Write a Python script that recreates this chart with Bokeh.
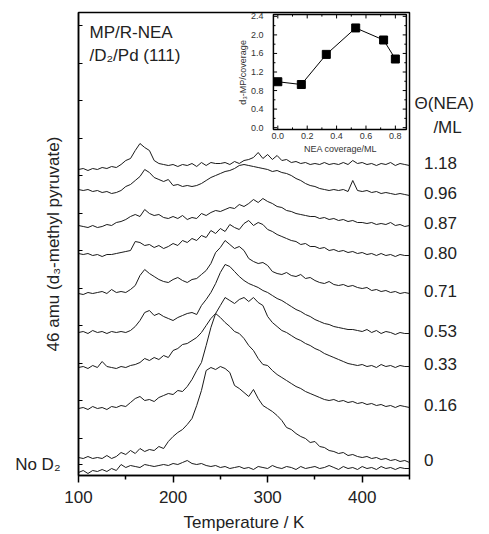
import numpy as np
from bokeh.plotting import figure
from bokeh.models import Range1d, FixedTicker, LinearAxis
from bokeh.core.properties import value
from bokeh.embed import file_html
from bokeh.resources import INLINE

FONT = "Liberation Sans"
INK = "#222222"

# ---------------- data ----------------
temperature = list(range(100, 451, 5))  # K

coverage_labels = ["1.18", "0.96", "0.87", "0.80", "0.71", "0.53", "0.33", "0.16", "0"]

sig_118 = [306, 307, 305, 307, 306, 308, 307, 309, 308, 311,
           315, 317, 325, 332, 328, 325, 315, 312, 311, 310,
           311, 309, 311, 310, 312, 309, 313, 310, 313, 312,
           312, 313, 311, 314, 312, 315, 316, 318, 323, 317,
           321, 316, 320, 315, 316, 313, 314, 312, 313, 311,
           312, 311, 313, 311, 312, 311, 313, 311, 315, 312,
           313, 311, 312, 310, 312, 311, 313, 310, 312, 311,
           310]
sig_096 = [286, 285, 286, 284, 285, 283, 284, 282, 283, 285,
           289, 291, 295, 299, 306, 303, 298, 296, 294, 296,
           290, 291, 289, 290, 289, 290, 292, 295, 298, 300,
           302, 304, 305, 307, 310, 311, 310, 309, 308, 307,
           306, 304, 305, 303, 302, 300, 297, 295, 292, 290,
           289, 287, 286, 285, 286, 285, 286, 284, 295, 285,
           284, 285, 283, 284, 282, 283, 282, 281, 282, 281,
           280]
sig_087 = [250, 249, 248, 250, 248, 249, 251, 250, 253, 254,
           256, 259, 261, 259, 266, 262, 260, 261, 258, 257,
           259, 257, 260, 256, 258, 257, 262, 260, 263, 265,
           264, 266, 268, 267, 271, 269, 272, 276, 273, 277,
           274, 272, 269, 268, 265, 264, 262, 261, 260, 259,
           259, 257, 258, 256, 257, 255, 256, 254, 255, 253,
           253, 252, 253, 251, 252, 251, 253, 250, 251, 249,
           250]
sig_080 = [222, 221, 222, 220, 221, 219, 221, 221, 222, 223,
           224, 225, 234, 233, 230, 231, 228, 230, 227, 229,
           232, 230, 235, 233, 237, 235, 240, 238, 245, 242,
           247, 244, 251, 248, 246, 252, 255, 250, 253, 251,
           246, 244, 241, 239, 237, 235, 234, 231, 232, 229,
           229, 227, 228, 225, 226, 224, 225, 223, 224, 222,
           223, 221, 222, 220, 222, 220, 221, 219, 221, 220,
           220]
sig_071 = [182, 181, 183, 182, 183, 184, 182, 186, 183, 184,
           183, 186, 190, 200, 206, 202, 199, 196, 194, 193,
           196, 198, 195, 193, 196, 197, 201, 205, 212, 223,
           228, 235, 231, 227, 229, 225, 217, 214, 212, 213,
           210, 204, 202, 201, 203, 200, 199, 201, 197, 198,
           195, 193, 192, 194, 191, 190, 191, 189, 190, 188,
           187, 188, 185, 186, 184, 185, 183, 184, 182, 183,
           182]
sig_053 = [143, 144, 142, 145, 143, 144, 142, 144, 143, 144,
           143, 145, 149, 155, 163, 165, 160, 162, 159, 157,
           155, 158, 160, 162, 163, 161, 170, 176, 183, 192,
           203, 211, 209, 204, 199, 195, 192, 190, 188, 185,
           183, 180, 177, 175, 172, 169, 166, 164, 161, 159,
           156, 154, 152, 151, 149, 148, 147, 146, 146, 145,
           144, 146, 143, 145, 142, 144, 143, 141, 143, 142,
           142]
sig_033 = [108, 109, 107, 110, 108, 114, 109, 108, 107, 109,
           108, 110, 111, 113, 117, 115, 118, 116, 120, 118,
           125, 127, 131, 132, 135, 138, 143, 150, 157, 162,
           170, 178, 175, 172, 176, 178, 174, 178, 173, 170,
           159, 153, 149, 145, 143, 140, 137, 135, 132, 130,
           127, 125, 122, 120, 118, 116, 114, 112, 111, 110,
           111, 109, 110, 108, 111, 109, 110, 108, 110, 109,
           109]
sig_016 = [67, 68, 66, 69, 67, 68, 66, 69, 68, 70,
           69, 73, 77, 79, 75, 76, 74, 78, 80, 82,
           81, 85, 84, 89, 96, 105, 113, 130, 148, 162,
           158, 153, 149, 144, 142, 137, 130, 125, 117, 111,
           110, 105, 101, 98, 95, 92, 89, 87, 84, 82,
           80, 78, 76, 75, 76, 74, 75, 73, 74, 72,
           73, 71, 72, 70, 71, 69, 70, 68, 70, 69,
           68]
sig_000 = [18, 17, 19, 17, 18, 17, 20, 17, 19, 23,
           21, 25, 22, 27, 24, 26, 25, 29, 27, 34,
           39, 43, 46, 51, 57, 70, 85, 105, 108, 106,
           109, 107, 103, 90, 87, 83, 79, 86, 77, 70,
           67, 64, 60, 55, 48, 46, 42, 39, 37, 33,
           34, 29, 28, 25, 24, 22, 23, 20, 21, 19,
           18, 19, 17, 18, 16, 17, 15, 16, 14, 15,
           13]
sig_no_d2 = [3, 5, 2, 5, 4, 6, 4, 7, 5, 11,
             8, 10, 9, 8, 11, 10, 9, 10, 11, 10,
             12, 11, 13, 15, 12, 11, 12, 10, 9, 10,
             8, 9, 7, 8, 9, 7, 8, 6, 9, 8,
             7, 10, 8, 7, 9, 8, 6, 9, 7, 8,
             9, 7, 8, 10, 8, 6, 9, 7, 8, 6,
             9, 7, 8, 6, 9, 7, 8, 6, 8, 7,
             7]

traces = [sig_118, sig_096, sig_087, sig_080, sig_071, sig_053, sig_033, sig_016, sig_000]

# inset data
inset_coverage = [0.0, 0.16, 0.33, 0.53, 0.72, 0.80]
inset_ratio = [0.99, 0.93, 1.58, 2.15, 1.89, 1.48]
inset_err = [0.03, 0.03, 0.05, 0.08, 0.07, 0.04]
inset_xticks = [0.0, 0.2, 0.4, 0.6, 0.8]
inset_yticks = [0.0, 0.4, 0.8, 1.2, 1.6, 2.0, 2.4]

x_major = [100, 200, 300, 400]
x_minor = [150, 250, 350, 450]

# ---------------- figure ----------------
p = figure(width=489, height=534, x_range=Range1d(100, 450), y_range=Range1d(0, 463),
           output_backend="svg", toolbar_location=None,
           min_border_left=78, min_border_right=80, min_border_top=12, min_border_bottom=59)
p.xgrid.visible = False
p.ygrid.visible = False
p.outline_line_color = "black"
p.outline_line_width = 1.5
p.background_fill_color = "white"
p.border_fill_color = "white"

xa = p.xaxis[0]
xa.ticker = FixedTicker(ticks=x_major, minor_ticks=x_minor)
xa.major_tick_out = 7
xa.major_tick_in = 0
xa.minor_tick_out = 4
xa.minor_tick_in = 0
xa.axis_line_width = 1.5
xa.major_tick_line_width = 1.5
xa.minor_tick_line_width = 1.5
xa.major_label_text_font = FONT
xa.major_label_text_font_size = "17px"
xa.major_label_text_color = INK
xa.major_label_standoff = 8
xa.axis_label = "Temperature / K"
xa.axis_label_text_font = FONT
xa.axis_label_text_font_size = "17px"
xa.axis_label_text_font_style = "normal"
xa.axis_label_text_color = INK
xa.axis_label_standoff = 7

# left axis: unlabeled inward ticks + the "No D2" row label + the axis title
no_d2_level = 11
left_ticks = [no_d2_level] + [37.5 * k for k in range(1, 13)]
ya = p.yaxis[0]
ya.ticker = FixedTicker(ticks=left_ticks, minor_ticks=[])
ya.major_label_overrides = {t: "" for t in left_ticks[1:]} | {no_d2_level: "No D\u2082"}
ya.major_tick_in = 4
ya.major_tick_out = 0
ya.minor_tick_in = 0
ya.minor_tick_out = 0
ya.axis_line_width = 1.5
ya.major_label_text_font = FONT
ya.major_label_text_font_size = "17px"
ya.major_label_text_color = INK
ya.major_label_standoff = 18
ya.axis_label = "46 amu (d\u2083-methyl pyruvate)"
ya.axis_label_text_font = FONT
ya.axis_label_text_font_size = "17px"
ya.axis_label_text_font_style = "normal"
ya.axis_label_text_color = INK
ya.axis_label_standoff = -51

# right axis: coverage labels of each trace
theta_level, ml_level = 372, 348
right_ticks = [sig[-1] + 2 for sig in traces] + [theta_level, ml_level]
right_text = ["\u00a0\u00a0" + lab for lab in coverage_labels] + ["\u0398(NEA)", "\u00a0\u00a0\u00a0\u00a0/ML"]
ra = LinearAxis(ticker=FixedTicker(ticks=right_ticks, minor_ticks=[]),
                major_label_overrides=dict(zip(right_ticks, right_text)))
ra.major_tick_in = 0
ra.major_tick_out = 0
ra.minor_tick_in = 0
ra.minor_tick_out = 0
ra.axis_line_color = None
ra.major_label_text_font = FONT
ra.major_label_text_font_size = "17px"
ra.major_label_text_color = INK
ra.major_label_standoff = 5
p.add_layout(ra, "right")

for sig in traces + [sig_no_d2]:
    p.line(temperature, sig, line_color="#1a1a1a", line_width=1)

p.text(x=[111.6, 111.6], y=[443, 420], text=["MP/R-NEA", "/D\u2082/Pd (111)"],
       text_font=value(FONT), text_font_size="17px", text_color=INK,
       text_align="left", text_baseline="middle")

# ---------------- inset ----------------
sub = p.subplot(x_source=Range1d(-0.03, 0.875), y_source=Range1d(-0.04, 2.44),
                x_target=Range1d(306.1, 446.7), y_target=Range1d(346, 461))
sub.quad(left=[-0.03], right=[0.875], bottom=[-0.04], top=[2.44],
         fill_color="white", line_color="black", line_width=1.5)

tx = []
for t in inset_xticks:
    tx.append((t, -0.04, t, 0.045))
    tx.append((t, 2.44, t, 2.355))
for t in [0.1, 0.3, 0.5, 0.7]:
    tx.append((t, -0.04, t, 0.005))
    tx.append((t, 2.44, t, 2.395))
for t in inset_yticks:
    tx.append((-0.03, t, -0.005, t))
    tx.append((0.875, t, 0.85, t))
for t in [0.2, 0.6, 1.0, 1.4, 1.8, 2.2]:
    tx.append((-0.03, t, -0.016, t))
    tx.append((0.875, t, 0.861, t))
sub.segment(x0=[a[0] for a in tx], y0=[a[1] for a in tx], x1=[a[2] for a in tx], y1=[a[3] for a in tx],
            line_color="black", line_width=1)

sub.text(x=inset_xticks, y=[-0.19] * len(inset_xticks), text=[f"{t:.1f}" for t in inset_xticks],
         text_font=value(FONT), text_font_size="9px", text_color="#333333",
         text_align="center", text_baseline="middle")
sub.text(x=[-0.098] * len(inset_yticks), y=inset_yticks, text=[f"{t:.1f}" for t in inset_yticks],
         text_font=value(FONT), text_font_size="9px", text_color="#333333",
         text_align="right", text_baseline="middle")
sub.text(x=[0.426], y=[-0.45], text=["NEA coverage/ML"],
         text_font=value(FONT), text_font_size="9px", text_color="#333333",
         text_align="center", text_baseline="middle")
sub.text(x=[-0.234], y=[1.19], text=["d\u2083-MP/coverage"], angle=np.pi / 2,
         text_font=value(FONT), text_font_size="9px", text_color="#333333",
         text_align="center", text_baseline="middle")

sub.segment(x0=inset_coverage, x1=inset_coverage,
            y0=[r - e for r, e in zip(inset_ratio, inset_err)],
            y1=[r + e for r, e in zip(inset_ratio, inset_err)],
            line_color="black", line_width=1)
sub.line(inset_coverage, inset_ratio, line_color="black", line_width=1)
sub.scatter(inset_coverage, inset_ratio, marker="square", size=8, fill_color="black", line_color="black")

open("out.html", "w").write(file_html(p, INLINE))
